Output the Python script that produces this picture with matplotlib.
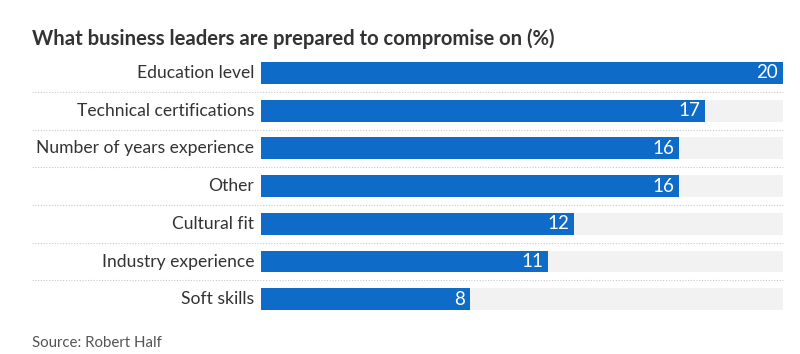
import matplotlib.pyplot as plt

categories = ["Education level", "Technical certifications", "Number of years experience",
              "Other", "Cultural fit", "Industry experience", "Soft skills"]
values = [20, 17, 16, 16, 12, 11, 8]
max_value = 20

plt.rcParams['font.family'] = ['Lato', 'DejaVu Sans']

fig = plt.figure(figsize=(8, 3.54), dpi=100)
ax = fig.add_axes([0.32625, 0.1014, 0.6525, 0.7458])

y = list(range(len(categories)))

# grey track behind each bar
ax.barh(y, [max_value] * len(y), height=0.58, color='#f2f2f2', zorder=1)
ax.barh(y, values, height=0.58, color='#0f6bc8', zorder=2)

for yi, v in zip(y, values):
    ax.text(v - 0.18, yi, str(v), color='white', ha='right', va='center',
            fontsize=13.5, zorder=3)

for yi, name in zip(y, categories):
    ax.text(-0.013, yi, name, color='#333333', ha='right', va='center',
            fontsize=12.6, transform=ax.get_yaxis_transform())

# dotted separators
for yi in y[:-1]:
    ax.plot([-0.4387, 1.0], [yi + 0.5, yi + 0.5], transform=ax.get_yaxis_transform(),
            color='#c8c8c8', lw=0.8, ls=(0, (1, 1.5)), clip_on=False, zorder=0)

ax.set_xlim(0, max_value)
ax.set_ylim(len(y) - 0.5, -0.5)
ax.axis('off')

fig.text(0.04, 0.89, "What business leaders are prepared to compromise on (%)",
         fontsize=14.6, fontweight='bold', color='#333333', va='center')
fig.text(0.04, 0.03, "Source: Robert Half", fontsize=10.8, color='#555555', va='center')

plt.savefig('out.png', dpi=100)
